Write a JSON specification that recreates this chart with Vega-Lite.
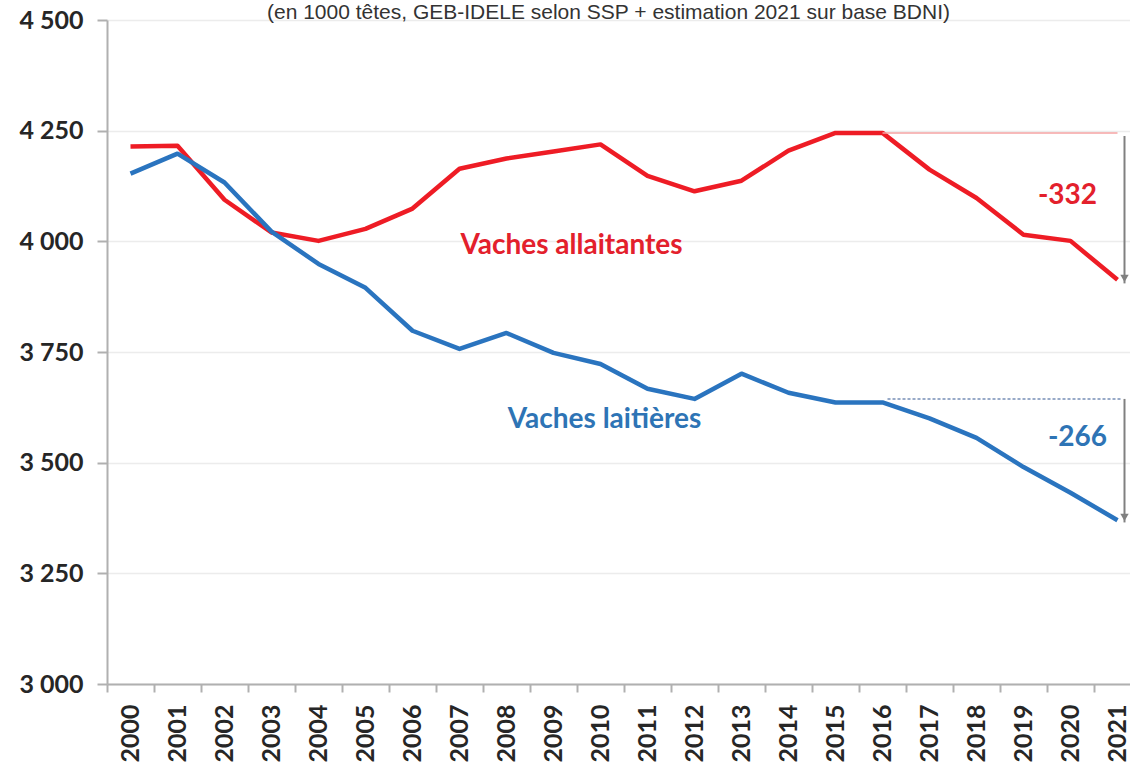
{
  "$schema": "https://vega.github.io/schema/vega-lite/v6.json",
  "width": 1023,
  "height": 664,
  "autosize": "none",
  "padding": {"left": 107, "top": 20, "right": 0, "bottom": 86},
  "background": "white",
  "title": {
    "text": "(en 1000 têtes, GEB-IDELE selon SSP + estimation 2021 sur base BDNI)",
    "font": "Liberation Sans",
    "fontSize": 21,
    "fontWeight": "normal",
    "color": "#333333",
    "baseline": "alphabetic",
    "anchor": "middle",
    "frame": "group",
    "offset": 0,
    "dy": 32,
    "dx": -10
  },
  "config": {
    "view": {"stroke": null},
    "axis": {
      "labelFont": "Lato",
      "labelFontWeight": "bold",
      "labelFontSize": 25,
      "labelColor": "#262626",
      "domainColor": "#b0b0b0",
      "domainWidth": 2,
      "tickColor": "#b0b0b0",
      "tickWidth": 2,
      "title": null
    }
  },
  "datasets": {
    "series": [
      {"year": "2000", "serie": "Vaches allaitantes", "value": 4214},
      {"year": "2001", "serie": "Vaches allaitantes", "value": 4216},
      {"year": "2002", "serie": "Vaches allaitantes", "value": 4094},
      {"year": "2003", "serie": "Vaches allaitantes", "value": 4020},
      {"year": "2004", "serie": "Vaches allaitantes", "value": 4001},
      {"year": "2005", "serie": "Vaches allaitantes", "value": 4028},
      {"year": "2006", "serie": "Vaches allaitantes", "value": 4074},
      {"year": "2007", "serie": "Vaches allaitantes", "value": 4164},
      {"year": "2008", "serie": "Vaches allaitantes", "value": 4187},
      {"year": "2009", "serie": "Vaches allaitantes", "value": 4203},
      {"year": "2010", "serie": "Vaches allaitantes", "value": 4219},
      {"year": "2011", "serie": "Vaches allaitantes", "value": 4148},
      {"year": "2012", "serie": "Vaches allaitantes", "value": 4113},
      {"year": "2013", "serie": "Vaches allaitantes", "value": 4137},
      {"year": "2014", "serie": "Vaches allaitantes", "value": 4205},
      {"year": "2015", "serie": "Vaches allaitantes", "value": 4245},
      {"year": "2016", "serie": "Vaches allaitantes", "value": 4245},
      {"year": "2017", "serie": "Vaches allaitantes", "value": 4162},
      {"year": "2018", "serie": "Vaches allaitantes", "value": 4098},
      {"year": "2019", "serie": "Vaches allaitantes", "value": 4015},
      {"year": "2020", "serie": "Vaches allaitantes", "value": 4001},
      {"year": "2021", "serie": "Vaches allaitantes", "value": 3913},
      {"year": "2000", "serie": "Vaches laitières", "value": 4153},
      {"year": "2001", "serie": "Vaches laitières", "value": 4198},
      {"year": "2002", "serie": "Vaches laitières", "value": 4133},
      {"year": "2003", "serie": "Vaches laitières", "value": 4022},
      {"year": "2004", "serie": "Vaches laitières", "value": 3949},
      {"year": "2005", "serie": "Vaches laitières", "value": 3895},
      {"year": "2006", "serie": "Vaches laitières", "value": 3798},
      {"year": "2007", "serie": "Vaches laitières", "value": 3757},
      {"year": "2008", "serie": "Vaches laitières", "value": 3793},
      {"year": "2009", "serie": "Vaches laitières", "value": 3748},
      {"year": "2010", "serie": "Vaches laitières", "value": 3723},
      {"year": "2011", "serie": "Vaches laitières", "value": 3667},
      {"year": "2012", "serie": "Vaches laitières", "value": 3644},
      {"year": "2013", "serie": "Vaches laitières", "value": 3701},
      {"year": "2014", "serie": "Vaches laitières", "value": 3658},
      {"year": "2015", "serie": "Vaches laitières", "value": 3636},
      {"year": "2016", "serie": "Vaches laitières", "value": 3636},
      {"year": "2017", "serie": "Vaches laitières", "value": 3600},
      {"year": "2018", "serie": "Vaches laitières", "value": 3556},
      {"year": "2019", "serie": "Vaches laitières", "value": 3490},
      {"year": "2020", "serie": "Vaches laitières", "value": 3432},
      {"year": "2021", "serie": "Vaches laitières", "value": 3370}
    ],
    "refs": [
      {"year": "2016", "serie": "Vaches allaitantes", "value": 4245},
      {"year": "2021", "serie": "Vaches allaitantes", "value": 4245},
      {"year": "2016", "serie": "Vaches laitières", "value": 3644},
      {"year": "2021", "serie": "Vaches laitières", "value": 3644}
    ],
    "arrows": [
      {"year": "2021", "serie": "Vaches allaitantes", "from": 4238, "to": 3905},
      {"year": "2021", "serie": "Vaches laitières", "from": 3644, "to": 3365}
    ],
    "labels": [
      {"year": "2009", "serie": "Vaches allaitantes", "value": 3990, "label": "Vaches allaitantes"},
      {"year": "2010", "serie": "Vaches laitières", "value": 3596, "label": "Vaches laitières"},
      {"year": "2020", "serie": "Vaches allaitantes", "value": 4103, "label": "-332"},
      {"year": "2020", "serie": "Vaches laitières", "value": 3556, "label": "-266"}
    ]
  },
  "encoding": {
    "x": {
      "field": "year",
      "type": "ordinal",
      "scale": {"type": "band", "paddingInner": 0, "paddingOuter": 0, "range": [0, 1034],
        "domain": ["2000","2001","2002","2003","2004","2005","2006","2007","2008","2009","2010","2011","2012","2013","2014","2015","2016","2017","2018","2019","2020","2021"]},
      "axis": {"labelAngle": -90, "tickBand": "extent", "tickSize": 8, "labelPadding": 12, "grid": false}
    }
  },
  "layer": [
    {
      "data": {"name": "series"},
      "mark": {"type": "line", "strokeWidth": 4.5, "strokeJoin": "round"},
      "encoding": {
        "y": {
          "field": "value",
          "type": "quantitative",
          "scale": {"domain": [3000, 4500], "nice": false, "zero": false},
          "axis": {
            "values": [3000, 3250, 3500, 3750, 4000, 4250, 4500],
            "labelExpr": "replace(format(datum.value, ','), ',', ' ')",
            "grid": true,
            "gridColor": "#ececec",
            "gridWidth": 1.5,
            "tickSize": 10,
            "labelPadding": 14
          }
        },
        "color": {
          "field": "serie",
          "type": "nominal",
          "scale": {"domain": ["Vaches allaitantes", "Vaches laitières"], "range": ["#ee1c25", "#2a74bf"]},
          "legend": null
        }
      }
    },
    {
      "data": {"name": "refs"},
      "transform": [{"filter": "datum.serie == 'Vaches allaitantes'"}],
      "mark": {"type": "line", "strokeWidth": 1.5, "color": "#f5a3a3"},
      "encoding": {"y": {"field": "value", "type": "quantitative"}}
    },
    {
      "data": {"name": "refs"},
      "transform": [{"filter": "datum.serie == 'Vaches laitières'"}],
      "mark": {"type": "line", "strokeWidth": 2, "color": "#98aac8", "strokeDash": [3, 2], "xOffset": 5},
      "encoding": {"y": {"field": "value", "type": "quantitative"}}
    },
    {
      "data": {"name": "arrows"},
      "mark": {"type": "rule", "strokeWidth": 2, "color": "#808080", "xOffset": 7},
      "encoding": {
        "y": {"field": "from", "type": "quantitative"},
        "y2": {"field": "to"}
      }
    },
    {
      "data": {"name": "arrows"},
      "mark": {"type": "point", "shape": "triangle-down", "filled": true, "opacity": 1, "size": 70, "color": "#808080", "xOffset": 7, "yOffset": -5},
      "encoding": {
        "y": {"field": "to", "type": "quantitative"}
      }
    },
    {
      "data": {"name": "labels"},
      "transform": [{"filter": "datum.label == 'Vaches allaitantes'"}],
      "mark": {"type": "text", "font": "Lato", "fontWeight": "bold", "fontSize": 28, "color": "#e3202c", "xOffset": 18, "baseline": "middle", "align": "center"},
      "encoding": {"y": {"field": "value", "type": "quantitative"}, "text": {"field": "label"}}
    },
    {
      "data": {"name": "labels"},
      "transform": [{"filter": "datum.label == 'Vaches laitières'"}],
      "mark": {"type": "text", "font": "Lato", "fontWeight": "bold", "fontSize": 28, "color": "#2e74b5", "xOffset": 4, "baseline": "middle", "align": "center"},
      "encoding": {"y": {"field": "value", "type": "quantitative"}, "text": {"field": "label"}}
    },
    {
      "data": {"name": "labels"},
      "transform": [{"filter": "datum.label == '-332'"}],
      "mark": {"type": "text", "font": "Lato", "fontWeight": "bold", "fontSize": 28, "color": "#e3202c", "xOffset": -3, "baseline": "middle", "align": "center"},
      "encoding": {"y": {"field": "value", "type": "quantitative"}, "text": {"field": "label"}}
    },
    {
      "data": {"name": "labels"},
      "transform": [{"filter": "datum.label == '-266'"}],
      "mark": {"type": "text", "font": "Lato", "fontWeight": "bold", "fontSize": 28, "color": "#2e74b5", "xOffset": 7, "baseline": "middle", "align": "center"},
      "encoding": {"y": {"field": "value", "type": "quantitative"}, "text": {"field": "label"}}
    }
  ]
}
